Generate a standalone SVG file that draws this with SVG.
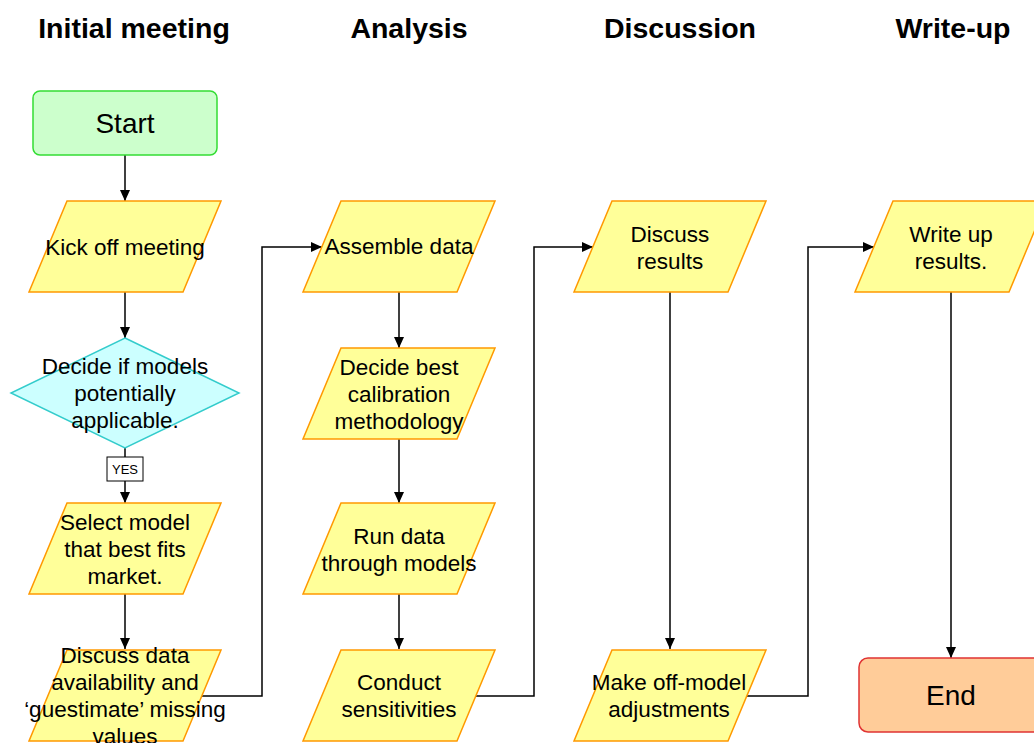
<svg xmlns="http://www.w3.org/2000/svg" width="1034" height="743" viewBox="0 0 1034 743">
  <style>
    text { font-family: "Liberation Sans", Arial, sans-serif; fill: #000; text-anchor: middle; }
    .hdr { font-size: 28.5px; font-weight: bold; }
    .lbl { font-size: 22.5px; }
    .big { font-size: 28px; }
    .yes { font-size: 13px; }
    .term-start { fill: #CCFFCC; stroke: #33DD33; stroke-width: 1.5; }
    .term-end { fill: #FFCC99; stroke: #E03333; stroke-width: 1.5; }
    .io { fill: #FFFF99; stroke: #FF9900; stroke-width: 1.5; }
    .dec { fill: #CCFFFF; stroke: #33CCCC; stroke-width: 1.5; }
    .wire { fill: none; stroke: #000; stroke-width: 1.5; marker-end: url(#arrow); }
    .tag { fill: #fff; stroke: #000; stroke-width: 1; }
  </style>
  <defs>
    <marker id="arrow" markerUnits="userSpaceOnUse" markerWidth="12" markerHeight="10" refX="11" refY="5" orient="auto">
      <path d="M0,0 L11,5 L0,10 z" fill="#000"/>
    </marker>
  </defs>

  <rect width="1034" height="743" fill="#fff"/>

  <!-- phase headings -->
  <g id="headings">
    <text class="hdr" x="134" y="38">Initial meeting</text>
    <text class="hdr" x="409" y="38">Analysis</text>
    <text class="hdr" x="680" y="38">Discussion</text>
    <text class="hdr" x="953" y="38">Write-up</text>
  </g>

  <!-- connectors -->
  <g id="connectors">
    <path class="wire" d="M125,155 V201"/>
    <path class="wire" d="M125,292 V338"/>
    <path class="wire" d="M125,448 V503"/>
    <path class="wire" d="M125,594 V649"/>
    <path class="wire" d="M202,696 H262 V247 H322"/>
    <path class="wire" d="M399,292 V348"/>
    <path class="wire" d="M399,439 V503"/>
    <path class="wire" d="M399,594 V649"/>
    <path class="wire" d="M476,696 H534 V247 H593"/>
    <path class="wire" d="M670,292 V649"/>
    <path class="wire" d="M747,696 H808 V247 H874"/>
    <path class="wire" d="M951,292 V658"/>
  </g>

  <!-- Initial meeting column -->
  <g id="start">
    <rect class="term-start" x="33" y="91" width="184" height="64" rx="7"/>
    <text class="big" x="125" y="133">Start</text>
  </g>
  <g id="kick-off">
    <polygon class="io" points="67,201 221,201 183,292 29,292"/>
    <text class="lbl" x="125" y="255">Kick off meeting</text>
  </g>
  <g id="models-applicable">
    <polygon class="dec" points="125,338 239,393 125,448 11,393"/>
    <text class="lbl" x="125" y="374">Decide if models</text>
    <text class="lbl" x="125" y="401">potentially</text>
    <text class="lbl" x="125" y="428">applicable.</text>
  </g>
  <g id="yes-label">
    <rect class="tag" x="107" y="457" width="36" height="24"/>
    <text class="yes" x="125" y="474">YES</text>
  </g>
  <g id="select-model">
    <polygon class="io" points="67,503 221,503 183,594 29,594"/>
    <text class="lbl" x="125" y="530">Select model</text>
    <text class="lbl" x="125" y="557">that best fits</text>
    <text class="lbl" x="125" y="584">market.</text>
  </g>
  <g id="discuss-data">
    <polygon class="io" points="67,650 221,650 183,741 29,741"/>
    <text class="lbl" x="125" y="663">Discuss data</text>
    <text class="lbl" x="125" y="690">availability and</text>
    <text class="lbl" x="125" y="717">‘guestimate’ missing</text>
    <text class="lbl" x="125" y="744">values</text>
  </g>

  <!-- Analysis column -->
  <g id="assemble-data">
    <polygon class="io" points="341,201 495,201 457,292 303,292"/>
    <text class="lbl" x="399" y="254">Assemble data</text>
  </g>
  <g id="calibration">
    <polygon class="io" points="341,348 495,348 457,439 303,439"/>
    <text class="lbl" x="399" y="375">Decide best</text>
    <text class="lbl" x="399" y="402">calibration</text>
    <text class="lbl" x="399" y="429">methodology</text>
  </g>
  <g id="run-data">
    <polygon class="io" points="341,503 495,503 457,594 303,594"/>
    <text class="lbl" x="399" y="544">Run data</text>
    <text class="lbl" x="399" y="571">through models</text>
  </g>
  <g id="sensitivities">
    <polygon class="io" points="341,650 495,650 457,741 303,741"/>
    <text class="lbl" x="399" y="690">Conduct</text>
    <text class="lbl" x="399" y="717">sensitivities</text>
  </g>

  <!-- Discussion column -->
  <g id="discuss-results">
    <polygon class="io" points="612,201 766,201 728,292 574,292"/>
    <text class="lbl" x="670" y="242">Discuss</text>
    <text class="lbl" x="670" y="269">results</text>
  </g>
  <g id="adjustments">
    <polygon class="io" points="612,650 766,650 728,741 574,741"/>
    <text class="lbl" x="669" y="690">Make off-model</text>
    <text class="lbl" x="669" y="717">adjustments</text>
  </g>

  <!-- Write-up column -->
  <g id="write-up">
    <polygon class="io" points="893,201 1047,201 1009,292 855,292"/>
    <text class="lbl" x="951" y="242">Write up</text>
    <text class="lbl" x="951" y="269">results.</text>
  </g>
  <g id="end">
    <rect class="term-end" x="859" y="658" width="184" height="74" rx="9"/>
    <text class="big" x="951" y="705">End</text>
  </g>
</svg>
